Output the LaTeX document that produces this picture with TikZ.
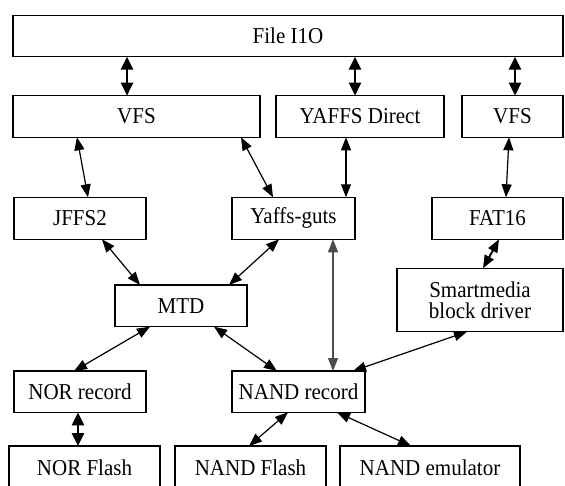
\documentclass[tikz,border=0pt]{standalone}
\usepackage{fontspec}
\setmainfont{Liberation Serif}
\usetikzlibrary{arrows.meta}
\newcommand\tall[1]{\scalebox{1}[1.08]{#1}}
\tikzset{
  box/.style={draw, line width=1.2pt, inner sep=0pt, outer sep=0pt, align=center,
    font=\fontsize{21}{21}\selectfont},
  thinarr/.style={line width=1.2pt, {Triangle[length=13pt,width=10pt]}-{Triangle[length=13pt,width=10pt]}},
  thickarr/.style={line width=2.6pt, {Triangle[length=13pt,width=12pt]}-{Triangle[length=13pt,width=12pt]}},
  greyarr/.style={thinarr, draw=black!70, fill=black!70},
}
\begin{document}
\begin{tikzpicture}[x=1pt,y=1pt]
\useasboundingbox (0,0) rectangle (565,-486);
\clip (0,0) rectangle (565,-486);
\node[box, minimum width=550, minimum height=41] (file) at (288,-36.2) {\tall{File I1O}};
\node[box, minimum width=247, minimum height=41.6] (vfsa) at (136.5,-116.5) {\tall{VFS}};
\node[box, minimum width=168, minimum height=41.6] (yd) at (360,-116.5) {\tall{YAFFS Direct}};
\node[box, minimum width=101, minimum height=41.6] (vfsb) at (512.5,-116.5) {\tall{VFS}};
\node[box, minimum width=132, minimum height=42] (jffs) at (80,-218.3) {\tall{JFFS2}};
\node[box, minimum width=123, minimum height=42] (yg) at (293.5,-218.3) {\tall{Yaffs-guts}};
\node[box, minimum width=131, minimum height=42] (fat) at (497.5,-218.3) {\tall{FAT16}};
\node[box, minimum width=132, minimum height=41.7] (mtd) at (181,-305.8) {\tall{MTD}};
\node[box, minimum width=166, minimum height=63.4] (sm) at (480,-300) {\tall{Smartmedia}\\\tall{block driver}};
\node[box, minimum width=132, minimum height=41.3] (norr) at (80,-391.7) {\tall{NOR record}};
\node[box, minimum width=133, minimum height=41.3] (nandr) at (298.5,-391.7) {\tall{NAND record}};
\node[box, minimum width=151, minimum height=44, anchor=north] (norf) at (84.5,-446) {\tall{NOR Flash}};
\node[box, minimum width=151, minimum height=44, anchor=north] (nandf) at (250.5,-446) {\tall{NAND Flash}};
\node[box, minimum width=180, minimum height=44, anchor=north] (nande) at (430,-446) {\tall{NAND emulator}};
\draw[thickarr] ([xshift=114]file.south west) -- ([xshift=114]vfsa.north west);
\draw[thickarr] ([xshift=342]file.south west) -- ([xshift=79]yd.north west);
\draw[thickarr] ([xshift=502]file.south west) -- ([xshift=53]vfsb.north west);
\draw[thinarr] ([xshift=64]vfsa.south west) -- ([xshift=74]jffs.north west);
\draw[thinarr] ([xshift=228]vfsa.south west) -- ([xshift=41]yg.north west);
\draw[thinarr] ([xshift=70]yd.south west) -- ([xshift=114]yg.north west);
\draw[thinarr] ([xshift=47]vfsb.south west) -- ([xshift=74]fat.north west);
\draw[thinarr] ([xshift=88]jffs.south west) -- ([xshift=25]mtd.north west);
\draw[thinarr] ([xshift=47]yg.south west) -- ([xshift=114]mtd.north west);
\draw[thinarr, line width=2pt] ([xshift=67]fat.south west) -- ([xshift=86]sm.north west);
\draw[greyarr] ([xshift=101]yg.south west) -- ([xshift=101]nandr.north west);
\draw[thinarr] ([xshift=35]mtd.south west) -- ([xshift=60]norr.north west);
\draw[thinarr] ([xshift=99]mtd.south west) -- ([xshift=45]nandr.north west);
\draw[thinarr] ([xshift=70]sm.south west) -- ([xshift=121]nandr.north west);
\draw[thickarr] ([xshift=64]norr.south west) -- ([xshift=69]norf.north west);
\draw[thinarr] ([xshift=56]nandr.south west) -- ([xshift=74]nandf.north west);
\draw[thinarr] ([xshift=105]nandr.south west) -- ([xshift=71]nande.north west);
\end{tikzpicture}
\end{document}
